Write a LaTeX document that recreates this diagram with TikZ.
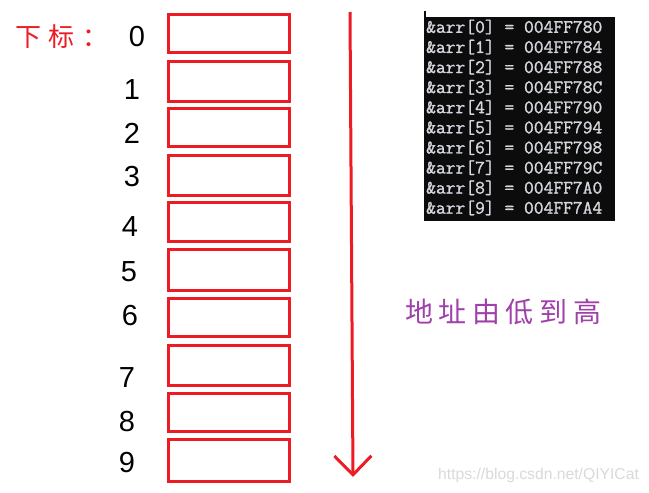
\documentclass[tikz,border=0pt]{standalone}
\usepackage{fontspec}
\newfontfamily\numfont{Liberation Sans}
\newfontfamily\cjkred[LetterSpace=30]{Noto Sans CJK SC}
\newfontfamily\cjkpurple[LetterSpace=20]{Noto Sans CJK SC}
\newfontfamily\consolefont[FakeBold=1.2]{Latin Modern Mono}
\usepackage{tikz}
\usetikzlibrary{%
	arrows.meta,% wg. Straight Barb
	positioning%
}
\definecolor{paintred}{RGB}{237,28,36}
\definecolor{consolebg}{RGB}{12,12,12}
\definecolor{consoletext}{RGB}{212,216,222}
\definecolor{notepurple}{RGB}{160,64,170}
\tikzstyle{cell}=[rectangle, draw=paintred, line width=2.8pt, minimum width=121pt, inner sep=0pt]
\tikzstyle{index}=[font=\numfont\fontsize{29}{29}\selectfont, inner sep=0pt]
\tikzstyle{addr}=[font=\consolefont\fontsize{19}{19}\selectfont, text=consoletext, anchor=west, inner sep=0pt]
\tikzstyle{line}=[draw=paintred, line width=3pt, -{Straight Barb[length=19pt,width=37pt]}]

\begin{document}
\begin{tikzpicture}[x=1pt,y=-1pt]
	\useasboundingbox (0,0) rectangle (649,493);
	
	% First we draw the cells
	\foreach \i/\y/\h in {0/33.5/38.2, 1/81.5/40.2, 2/127.5/38.2, 3/175.5/40.2, 4/222/39.2,
		5/270/41.2, 6/317.5/38.2, 7/365.5/40.2, 8/412.5/38.2, 9/460.5/42.2}
	\node[cell, minimum height=\h pt] (cell\i) at (229,\y) {};
	
	% Then the indices
	\foreach \i/\pos in {0/{(137,37)}, 1/{(132,90)}, 2/{(132,133)}, 3/{(132,177)}, 4/{(130,227)},
		5/{(129,272)}, 6/{(130,316)}, 7/{(127,378)}, 8/{(127,422)}, 9/{(127,463)}}
	\node[index] (idx\i) at \pos {\i};
	
	\node[anchor=west, inner sep=0pt, text=paintred, font=\cjkred\fontsize{26}{26}\selectfont] (title) at (15,37) {下标：};
	
	% Console output
	\node[fill=consolebg, minimum width=191pt, minimum height=204pt, inner sep=0pt] (console) at (519.5,119) {};
	\draw[consolebg, line width=2pt] ([xshift=1pt]console.north west) -- ++(0,-6);
	
	\foreach \i/\a in {0/004FF780, 1/004FF784, 2/004FF788, 3/004FF78C, 4/004FF790,
		5/004FF794, 6/004FF798, 7/004FF79C, 8/004FF7A0, 9/004FF7A4}
	\node[addr] (addr\i) at (426,{27+20.1*\i}) {\&arr[\i] = \a};
	
	% Draw the direction arrow
	\coordinate (top) at (350,12);
	\coordinate (bottom) at (353,477);
	\path[line] (top) -- (bottom);
	
	\node[anchor=west, inner sep=0pt, text=notepurple, font=\cjkpurple\fontsize{28}{28}\selectfont] (note) at (405,312) {地址由低到高};
	
	\node[anchor=west, inner sep=0pt, text=black!15, font=\numfont\fontsize{15.7}{15.7}\selectfont] (mark) at (438,475) {https://blog.csdn.net/QIYICat};
	
\end{tikzpicture}
\end{document}
